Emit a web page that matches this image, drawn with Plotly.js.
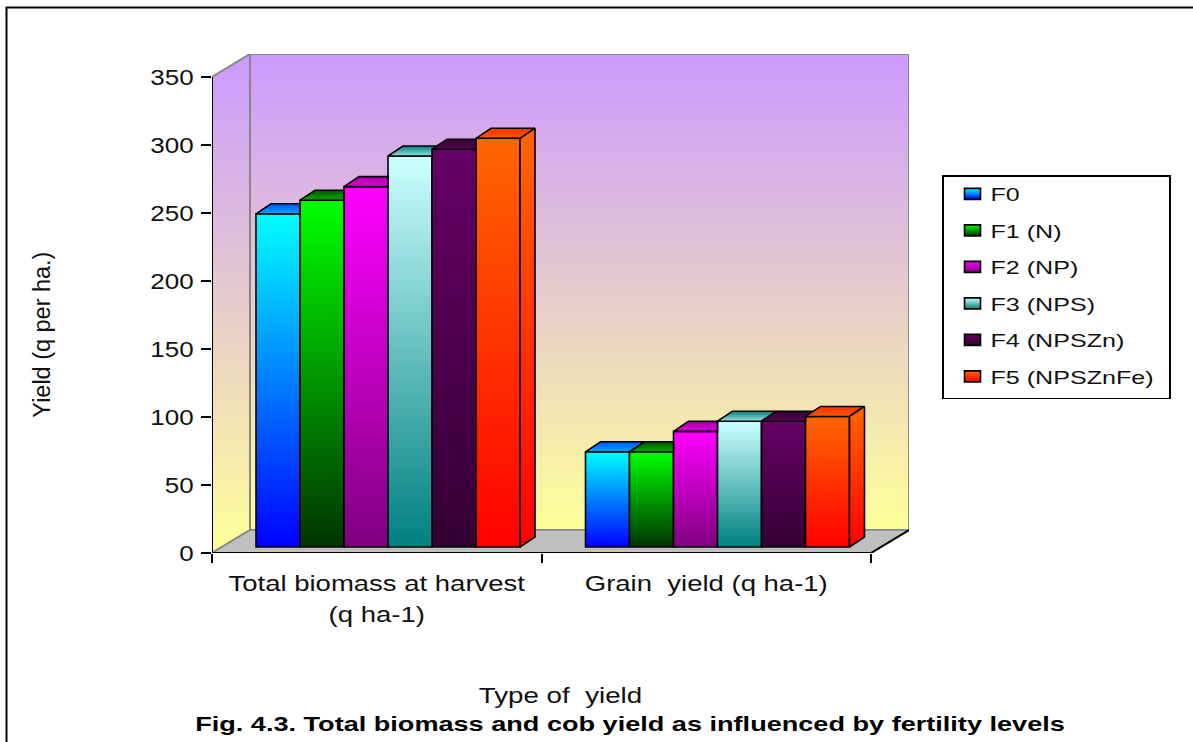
<!DOCTYPE html>
<html><head><meta charset="utf-8">
<script src="https://cdn.plot.ly/plotly-3.0.1.min.js"></script>
<style>html,body{margin:0;padding:0;background:#fff;overflow:hidden}#chart{width:1193px;height:742px}</style>
</head><body><div id="chart"></div>
<script>
// ---- data ----
const categories = ['Total biomass at harvest<br>(q ha-1)', 'Grain\u00a0\u00a0yield (q ha-1)'];
const seriesNames = ['F0', 'F1 (N)', 'F2 (NP)', 'F3 (NPS)', 'F4 (NPSZn)', 'F5 (NPSZnFe)'];
const F0 = [245, 70];
const F1 = [255, 70];
const F2 = [265, 85];
const F3 = [287.5, 92.5];
const F4 = [292.5, 92.5];
const F5 = [300.5, 96];
const seriesValues = [F0, F1, F2, F3, F4, F5];
const frontColors = [['#00ffff','#0000ff'],['#00ff00','#003300'],['#ff00ff','#800080'],['#ccffff','#008080'],['#660066','#330033'],['#ff6600','#ff0000']];
const topColors = [['#0050ff','#00aaff'],['#005500','#00aa00'],['#aa00aa','#dd00dd'],['#008080','#99dddd'],['#330033','#550055'],['#ff3300','#ff5500']];
const wallColors = ['#cc99ff','#ffff99'];
const yTicks = [0,50,100,150,200,250,300,350];

// ---- geometry of the pseudo-3D frame (data units) ----
const pxX = 329.5, pxY = 1.36;
const wallDX = 38/pxX, wallDY = 23/pxY;
const barW = 44/pxX, barStart = -120.75/pxX;
const barBase = 6/pxY, depthX = 15/pxX, depthY = 10/pxY;
const xMin = -0.5, xMax = 1.5, yMax = 350;
const L = 212, T = 54, W = 697, H = 499;
const px = v => (v-L)/W, py = v => (T+H-v)/H;

const traces = [];
seriesNames.forEach((name,i)=>{
  traces.push({type:'bar', name, legendgroup:name, x:[0,1], y:seriesValues[i], base:[barBase,barBase],
    width:barW, offset:barStart+i*barW, marker:{color:frontColors[i][0], line:{color:'#000',width:1.6}}, hoverinfo:'skip'});
});
const polyGrads = [];
function poly(xs,ys,cols){
  traces.push({type:'scatter',mode:'lines',x:[...xs,xs[0]],y:[...ys,ys[0]],fill:'toself',fillcolor:cols[0],
    line:{color:'#000',width:1.6},showlegend:false,hoverinfo:'skip'});
  polyGrads.push(cols);
}
[0,1].forEach(g=>{
  seriesValues.forEach((vals,i)=>{
    const xl = g+barStart+i*barW, xr = xl+barW, top = barBase+vals[g];
    const next = i<seriesValues.length-1 ? barBase+seriesValues[i+1][g] : -1;
    let xs, ys;
    if(next >= top+depthY){ xs=[xl,xr,xr,xl+depthX]; ys=[top,top,top+depthY,top+depthY]; }
    else if(next > top){ const f=(next-top)/depthY;
      xs=[xl,xr,xr,xr+depthX*f,xr+depthX,xl+depthX]; ys=[top,top,next,next,top+depthY,top+depthY]; }
    else { xs=[xl,xr,xr+depthX,xl+depthX]; ys=[top,top,top+depthY,top+depthY]; }
    poly(xs,ys,topColors[i]);
  });
  const last = seriesValues.length-1, xr = g+barStart+(last+1)*barW, top = barBase+seriesValues[last][g];
  poly([xr,xr+depthX,xr+depthX,xr],[top,top+depthY,barBase+depthY,barBase],frontColors[last]);
});

const pth = pts => 'M'+pts.map(p=>p.join(',')).join('L')+'Z';
const gray = '#868686';
const shapes = [
  {type:'path',layer:'below',path:pth([[xMin+wallDX,wallDY],[xMax+wallDX,wallDY],[xMax+wallDX,yMax+wallDY],[xMin+wallDX,yMax+wallDY]]),fillcolor:wallColors[0],line:{color:gray,width:2}},
  {type:'path',layer:'below',path:pth([[xMin,0],[xMin+wallDX,wallDY],[xMin+wallDX,yMax+wallDY],[xMin,yMax]]),fillcolor:wallColors[0],line:{color:gray,width:2}},
  {type:'path',layer:'below',path:pth([[xMin,0],[xMin+wallDX,wallDY],[xMax+wallDX,wallDY],[xMax,0]]),fillcolor:'#c0c0c0',line:{color:gray,width:1.5}},
  {type:'line',layer:'below',x0:xMax,y0:0,x1:xMax+wallDX,y1:wallDY,line:{color:'#000',width:2}},
  {type:'line',layer:'below',x0:xMin,y0:0,x1:xMax,y1:0,line:{color:'#000',width:2}},
  {type:'line',layer:'below',x0:xMin,y0:0,x1:xMin,y1:yMax,line:{color:'#000',width:2}},
  {type:'rect',xref:'paper',yref:'paper',x0:px(6.5),x1:1.6,y0:-1,y1:py(7.5),line:{color:'#000',width:2},fillcolor:'rgba(0,0,0,0)'}
];

const font = 'Liberation Sans, Arial, sans-serif';
const layout = {
  width:1193,height:742,autosize:false,paper_bgcolor:'#fff',plot_bgcolor:'rgba(0,0,0,0)',
  margin:{l:L,r:1193-L-W,t:T,b:742-T-H,autoexpand:false},
  barmode:'overlay',font:{family:font,size:19,color:'#111'},
  showlegend:true,
  title:{text:'<b>Fig. 4.3. Total biomass and cob yield as influenced by fertility levels</b>',
    xref:'container',yref:'container',x:630/1193,xanchor:'center',y:1-724/742,yanchor:'middle',font:{family:font,size:21,color:'#000'}},
  legend:{x:px(942),xanchor:'left',y:py(175),yanchor:'top',bgcolor:'#fff',bordercolor:'#000',borderwidth:1.5,
    traceorder:'grouped',tracegroupgap:8.8,font:{family:font,size:19,color:'#111'},itemclick:false,itemdoubleclick:false},
  xaxis:{type:'linear',range:[xMin,xMax+wallDX],tickmode:'array',tickvals:[0,1],ticktext:categories,ticks:'',showgrid:false,zeroline:false,showline:false,
    minor:{tickmode:'array',tickvals:[xMin,(xMin+xMax)/2,xMax],ticks:'outside',ticklen:9,tickwidth:2,tickcolor:'#000',showgrid:false},
    ticklabelstandoff:15,
    tickfont:{family:font,size:22,color:'#111'},automargin:false,
    title:{text:'Type of\u00a0\u00a0yield',font:{family:font,size:22,color:'#111'},standoff:64}},
  yaxis:{type:'linear',range:[0,yMax+wallDY],tickmode:'array',tickvals:yTicks,ticks:'outside',ticklen:10,tickwidth:2,tickcolor:'#000',
    ticklabelstandoff:3,showgrid:false,zeroline:false,showline:false,tickfont:{family:font,size:22,color:'#111'},automargin:false},
  annotations:[{text:'Yield (q per ha.)',xref:'paper',yref:'paper',x:px(42),y:py(335),textangle:-90,showarrow:false,xanchor:'center',yanchor:'middle',
    font:{family:'Liberation Sans Narrow, Liberation Sans, sans-serif',size:23,color:'#111'}}],
  shapes
};

const gd = document.getElementById('chart');
Plotly.newPlot(gd,traces,layout,{displayModeBar:false,staticPlot:true}).then(()=>{
  const NS='http://www.w3.org/2000/svg';
  const svg = gd.querySelector('.main-svg');
  let defs = svg.querySelector('defs');
  let n=0; const cache={};
  function grad(c){
    const k=c.join('|'); if(cache[k]) return cache[k];
    const id='grad'+(n++), g=document.createElementNS(NS,'linearGradient');
    g.setAttribute('id',id);g.setAttribute('x1','0');g.setAttribute('y1','0');g.setAttribute('x2','0');g.setAttribute('y2','1');
    c.forEach((col,j)=>{const s=document.createElementNS(NS,'stop');s.setAttribute('offset',j/(c.length-1));s.setAttribute('stop-color',col);g.appendChild(s);});
    defs.appendChild(g); return cache[k]='url(#'+id+')';
  }
  const paint=(el,c)=>el.style.setProperty('fill',grad(c));
  gd.querySelectorAll('.barlayer .trace').forEach((t,i)=>t.querySelectorAll('path').forEach(p=>paint(p,frontColors[i])));
  gd.querySelectorAll('.scatterlayer .trace').forEach((t,i)=>t.querySelectorAll('.js-fill').forEach(p=>paint(p,polyGrads[i])));
  gd.querySelectorAll('.legend .traces').forEach((t,i)=>t.querySelectorAll('.legendpoints path').forEach(p=>{
    p.setAttribute('d','M10,5.5H-6V-5.5H10Z');
    paint(p,frontColors[i]);}));
  document.querySelectorAll('.shapelayer path').forEach(p=>{
    p.removeAttribute('clip-path');
    const idx=+p.getAttribute('data-index');
    if(idx===0||idx===1) paint(p,wallColors);
  });
  // stretch text horizontally like the original picture
  const stretch=(el,f)=>{const l=el.getComputedTextLength();el.setAttribute('textLength',l*f);el.setAttribute('lengthAdjust','spacingAndGlyphs');};
  gd.querySelectorAll('.ytick text').forEach(t=>stretch(t,1.18));
  gd.querySelectorAll('.xtick text').forEach(t=>{
    const sp=t.querySelectorAll('tspan.line');
    if(sp.length){sp.forEach((s,j)=>{stretch(s,1.25);if(j>0)s.setAttribute('y',(+s.getAttribute('y')||0)+2);});} else stretch(t,1.25);
  });
  gd.querySelectorAll('.xtitle').forEach(t=>stretch(t,1.26));
  gd.querySelectorAll('.gtitle').forEach(t=>stretch(t,1.29));
  gd.querySelectorAll('.annotation-text').forEach(t=>stretch(t,1.02));
  gd.querySelectorAll('.legendtext').forEach(t=>stretch(t,1.32));
  const sb=gd.querySelector('.legend .scrollbox');
  if(sb){sb.removeAttribute('clip-path');
    const tr=sb.getAttribute('transform')||'';const m=tr.match(/translate\(([-\d.]+)[ ,]+([-\d.]+)\)/);
    sb.setAttribute('transform','translate('+((m?+m[1]:0)+7)+','+((m?+m[2]:0)-1.5)+')');}
  const bg=gd.querySelector('.legend .bg'); if(bg){bg.setAttribute('width',227);}
});
</script></body></html>
